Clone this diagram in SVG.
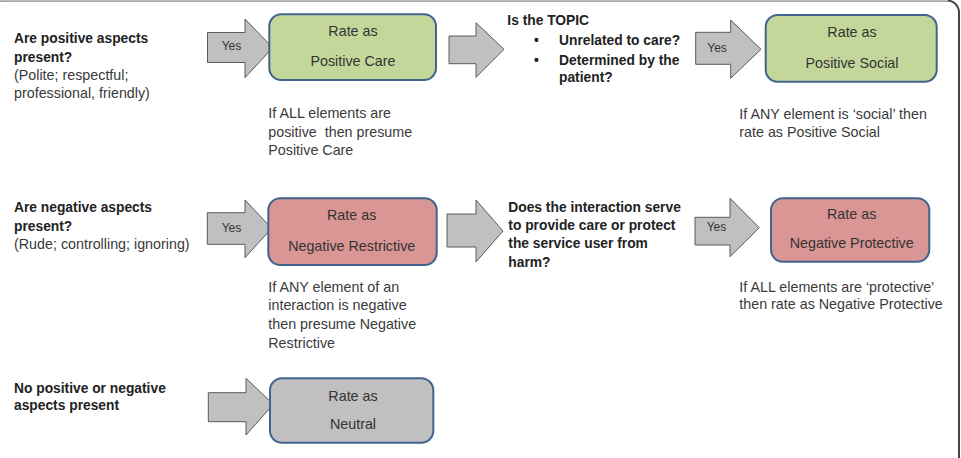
<svg xmlns="http://www.w3.org/2000/svg" width="961" height="458" viewBox="0 0 961 458">
<style>
  .q{font-family:"Liberation Sans",Arial,sans-serif;font-weight:bold;font-size:13.8px;fill:#222}
  .t{font-family:"Liberation Sans",Arial,sans-serif;font-size:14.3px;fill:#3a3a3a}
  .bt{font-family:"Liberation Sans",Arial,sans-serif;font-size:14.3px;fill:#333;text-anchor:middle}
  .y{font-family:"Liberation Sans",Arial,sans-serif;font-size:12px;fill:#333}
  .arr{fill:#c0c0c0;stroke:#5a5a5a;stroke-width:1}
  .box{stroke:#41648e;stroke-width:2}
  .g{fill:#c4d79b}
  .r{fill:#d99694}
  .n{fill:#c0c0c0}
</style>
<rect width="961" height="458" fill="#ffffff"/>
<rect x="-10" y="0.5" width="969" height="480" rx="12" fill="none" stroke="#454545" stroke-width="2"/>
<line x1="0" y1="0.5" x2="948" y2="0.5" stroke="#bdbdbd" stroke-width="1.5"/>

<g id="connectors">
  <path class="arr" d="M207.5,32.5 H245 V19 L272.7,47.7 L245,77.7 V62.5 H207.5 Z"/>
  <path class="arr" d="M449,36 H476 V22.7 L504,49.3 L476,77.3 V63.7 H449 Z"/>
  <path class="arr" d="M695.7,32.3 H730.7 V20 L761,49.3 L730.7,78.3 V64.3 H695.7 Z"/>
  <path class="arr" d="M207.3,212.7 H245 V200 L271.7,228.3 L245,257.7 V244.3 H207.3 Z"/>
  <path class="arr" d="M447,214 H476 V200 L503,231 L476,262 V247 H447 Z"/>
  <path class="arr" d="M695,217.3 H730 V198.3 L759.3,227.7 L730,256.7 V245 H695 Z"/>
  <path class="arr" d="M208.3,392.7 H246 V378.3 L273.3,404.3 L246,435 V421.7 H208.3 Z"/>
  <text class="y" x="221.7" y="50">Yes</text>
  <text class="y" x="707.3" y="51.7">Yes</text>
  <text class="y" x="221.7" y="231.5">Yes</text>
  <text class="y" x="706.7" y="230.7">Yes</text>
</g>

<g id="q-positive">
  <text class="q" x="14" y="43.3">Are positive aspects</text>
  <text class="q" x="14" y="61.7">present?</text>
  <text class="t" x="14" y="80">(Polite; respectful;</text>
  <text class="t" x="14" y="98.3">professional, friendly)</text>
</g>

<g id="positive-care">
  <rect class="box g" x="269.3" y="14.3" width="166.7" height="65.7" rx="12"/>
  <text class="bt" x="353" y="36">Rate as</text>
  <text class="bt" x="353" y="65.7">Positive Care</text>
</g>
<g id="note-positive-care">
  <text class="t" x="268.3" y="118.3">If ALL elements are</text>
  <text class="t" x="268.3" y="136.7" xml:space="preserve">positive  then presume</text>
  <text class="t" x="268.3" y="155">Positive Care</text>
</g>

<g id="q-topic">
  <text class="q" x="507.3" y="24.5">Is the TOPIC</text>
  <text class="q" x="534" y="45">•</text>
  <text class="q" x="559" y="45">Unrelated to care?</text>
  <text class="q" x="534" y="65">•</text>
  <text class="q" x="559" y="65">Determined by the</text>
  <text class="q" x="559" y="81.5">patient?</text>
</g>

<g id="positive-social">
  <rect class="box g" x="765.7" y="15" width="171" height="66.7" rx="12"/>
  <text class="bt" x="852" y="36.7">Rate as</text>
  <text class="bt" x="852" y="68.3">Positive Social</text>
</g>
<g id="note-positive-social">
  <text class="t" x="739.3" y="118.5">If ANY element is ‘social’ then</text>
  <text class="t" x="739.3" y="136.8">rate as Positive Social</text>
</g>

<g id="q-negative">
  <text class="q" x="14" y="212.3">Are negative aspects</text>
  <text class="q" x="14" y="231">present?</text>
  <text class="t" x="14" y="249">(Rude; controlling; ignoring)</text>
</g>

<g id="negative-restrictive">
  <rect class="box r" x="268.3" y="198.3" width="168.4" height="66.7" rx="12"/>
  <text class="bt" x="351.7" y="220">Rate as</text>
  <text class="bt" x="351.7" y="250.7">Negative Restrictive</text>
</g>
<g id="note-negative-restrictive">
  <text class="t" x="268.3" y="291.7">If ANY element of an</text>
  <text class="t" x="268.3" y="310">interaction is negative</text>
  <text class="t" x="268.3" y="329">then presume Negative</text>
  <text class="t" x="268.3" y="347.7">Restrictive</text>
</g>

<g id="q-protect">
  <text class="q" x="508.3" y="211.7">Does the interaction serve</text>
  <text class="q" x="508.3" y="230">to provide care or protect</text>
  <text class="q" x="508.3" y="248.3">the service user from</text>
  <text class="q" x="508.3" y="266.7">harm?</text>
</g>

<g id="negative-protective">
  <rect class="box r" x="771" y="198.3" width="158.3" height="63.4" rx="12"/>
  <text class="bt" x="851.7" y="219.3">Rate as</text>
  <text class="bt" x="851.7" y="248.3">Negative Protective</text>
</g>
<g id="note-negative-protective">
  <text class="t" x="739.3" y="291.7">If ALL elements are ‘protective’</text>
  <text class="t" x="739.3" y="309.3">then rate as Negative Protective</text>
</g>

<g id="q-neutral">
  <text class="q" x="14" y="392.7">No positive or negative</text>
  <text class="q" x="14" y="410">aspects present</text>
</g>

<g id="neutral">
  <rect class="box n" x="270" y="378.3" width="163.3" height="64.4" rx="12"/>
  <text class="bt" x="353" y="400.7">Rate as</text>
  <text class="bt" x="353" y="429">Neutral</text>
</g>
</svg>
